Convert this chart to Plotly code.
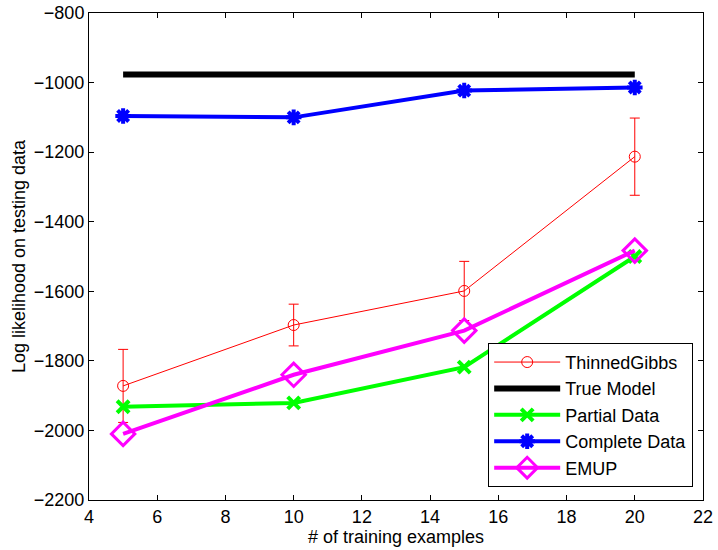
import plotly.graph_objects as go

x_vals = [5, 10, 15, 20]
thinned_gibbs = [-1872, -1697, -1599, -1213]
thinned_gibbs_err = [105, 60, 85, 111]
true_model = [-977, -977, -977, -977]
partial_data = [-1932, -1921, -1818, -1500]
complete_data = [-1096, -1100, -1023, -1014]
emup = [-2010, -1840, -1713, -1483]

x_ticks = [4, 6, 8, 10, 12, 14, 16, 18, 20, 22]
y_ticks = [-2200, -2000, -1800, -1600, -1400, -1200, -1000, -800]

fig = go.Figure()
fig.add_trace(go.Scatter(
    x=x_vals, y=thinned_gibbs, name="ThinnedGibbs", mode="lines+markers",
    line=dict(color="#ff0000", width=1),
    marker=dict(symbol="circle-open", size=11, color="#ff0000", line=dict(width=1)),
    error_y=dict(type="data", array=thinned_gibbs_err, visible=True,
                 color="#ff0000", thickness=1, width=5)))
fig.add_trace(go.Scatter(
    x=x_vals, y=true_model, name="True Model", mode="lines",
    line=dict(color="#000000", width=6)))
fig.add_trace(go.Scatter(
    x=x_vals, y=partial_data, name="Partial Data", mode="lines+markers",
    line=dict(color="#00ff00", width=4),
    marker=dict(symbol="x-thin-open", size=12, color="#00ff00", line=dict(width=4, color="#00ff00"))))
fig.add_trace(go.Scatter(
    x=x_vals, y=complete_data, name="Complete Data", mode="lines+markers",
    line=dict(color="#0000ff", width=4),
    marker=dict(symbol="asterisk-open", size=13, color="#0000ff", line=dict(width=4, color="#0000ff"))))
fig.add_trace(go.Scatter(
    x=x_vals, y=emup, name="EMUP", mode="lines+markers",
    line=dict(color="#ff00ff", width=4),
    marker=dict(symbol="diamond-open", size=18, color="#ff00ff", line=dict(width=3, color="#ff00ff"))))

axis_common = dict(showline=True, linecolor="black", linewidth=1, mirror="ticks",
                   ticks="inside", ticklen=5, tickcolor="black", showgrid=False,
                   zeroline=False, automargin=False, ticklabeloverflow="allow",
                   tickfont=dict(size=18, color="black"))
fig.update_layout(
    width=718, height=550,
    margin=dict(l=89, r=15, t=13, b=50),
    paper_bgcolor="white", plot_bgcolor="white",
    font=dict(family="Liberation Sans, Arial, sans-serif", size=18, color="black"),
    xaxis=dict(range=[4, 22], tickvals=x_ticks, ticktext=[str(v) for v in x_ticks],
               title=dict(text="# of training examples", standoff=2, font=dict(size=18)),
               **axis_common),
    yaxis=dict(range=[-2200, -800], tickvals=y_ticks,
               ticktext=[("\u2212" + str(-v)) for v in y_ticks],
               title=dict(text="Log likelihood on testing data", standoff=3, font=dict(size=18)),
               **axis_common),
    legend=dict(x=0.984, y=0.027, xanchor="right", yanchor="bottom",
                bgcolor="white", bordercolor="black", borderwidth=1,
                itemwidth=66, font=dict(size=18), tracegroupgap=0),
    showlegend=True,
)
fig.write_html("out.html", config={"displayModeBar": False},
               post_script="document.body.style.margin='0';document.body.style.overflow='hidden';")
